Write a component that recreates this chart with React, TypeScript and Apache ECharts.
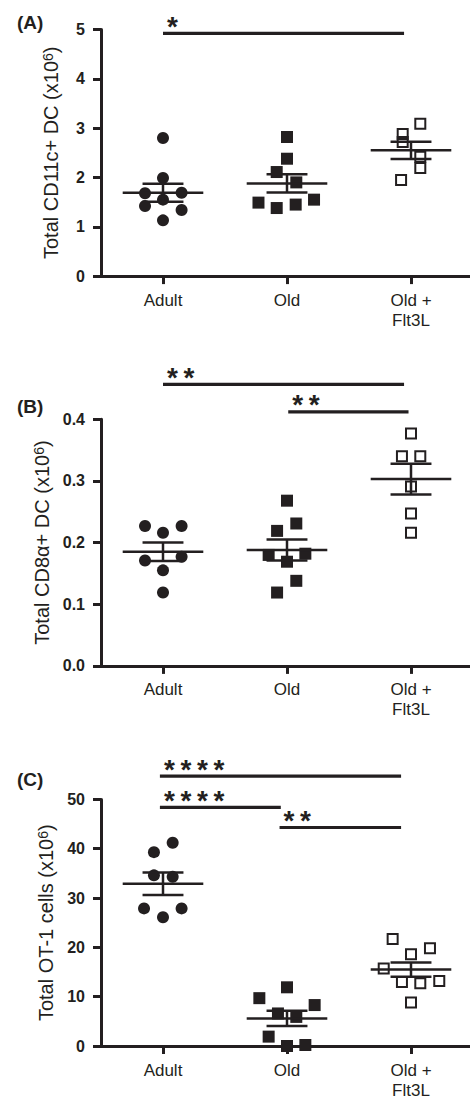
import React, { useEffect, useRef } from 'react';
import * as echarts from 'echarts';

// ---------- categories & ticks ----------
const categories = ['Adult', 'Old', 'Old +\nFlt3L'];
const groupPositions = [0, 1, 2];
const panelLabels = ['(A)', '(B)', '(C)'];
const yNames = [
  'Total CD11c+ DC (x10{sup|6})',
  'Total CD8α+ DC (x10{sup|6})',
  'Total OT-1 cells (x10{sup|6})',
];
const yMax = [5, 0.4, 50];
const yInterval = [1, 0.1, 10];

// ---------- Panel A: CD11c+ DC ----------
const aAdult = [2.8, 1.99, 1.68, 1.69, 1.55, 1.42, 1.34, 1.13];
const aAdultSpread = [0, 0, -0.145, 0.15, 0, -0.145, 0.15, 0];
const aOld = [2.82, 2.38, 2.11, 1.9, 1.49, 1.38, 1.45, 1.55];
const aOldSpread = [0, 0, -0.083, 0.075, -0.23, -0.083, 0.07, 0.218];
const aFlt = [3.09, 2.88, 2.72, 2.42, 2.19, 1.95];
const aFltSpread = [0.075, -0.067, -0.067, 0.075, 0.075, -0.08];
const aMean = [1.69, 1.88, 2.55];
const aSem = [0.18, 0.185, 0.175];
const aSigFrom = [0];
const aSigTo = [1.944];
const aSigY = [4.92];
const aSigStars = ['*'];

// ---------- Panel B: CD8a+ DC ----------
const bAdult = [0.227, 0.227, 0.216, 0.171, 0.177, 0.155, 0.119];
const bAdultSpread = [-0.145, 0.15, 0, -0.145, 0.15, 0, 0];
const bOld = [0.268, 0.219, 0.231, 0.18, 0.182, 0.169, 0.138, 0.119];
const bOldSpread = [0, -0.08, 0.075, -0.148, 0.148, 0, 0.075, -0.08];
const bFlt = [0.377, 0.34, 0.34, 0.291, 0.247, 0.216];
const bFltSpread = [0, -0.073, 0.075, 0, 0, 0];
const bMean = [0.185, 0.188, 0.303];
const bSem = [0.015, 0.017, 0.025];
const bSigFrom = [0, 1.01];
const bSigTo = [1.944, 1.98];
const bSigY = [0.4566, 0.4122];
const bSigStars = ['**', '**'];

// ---------- Panel C: OT-1 cells ----------
const cAdult = [41.2, 39.3, 34.6, 34.3, 27.9, 27.9, 26.1];
const cAdultSpread = [0.078, -0.073, -0.073, 0.078, -0.153, 0.15, 0];
const cOld = [11.9, 9.7, 8.3, 6.6, 5.9, 1.9, 0.0, 0.2];
const cOldSpread = [0, -0.223, 0.223, -0.073, 0.075, -0.148, 0, 0.148];
const cFlt = [21.7, 19.8, 18.6, 15.7, 13.0, 12.7, 13.2, 8.8];
const cFltSpread = [-0.148, 0.153, 0, -0.22, -0.073, 0.075, 0.228, 0];
const cMean = [32.9, 5.6, 15.5];
const cSem = [2.3, 1.55, 1.45];
const cSigFrom = [-0.025, -0.025, 0.94];
const cSigTo = [1.92, 0.95, 1.92];
const cSigY = [54.7, 48.4, 44.3];
const cSigStars = ['****', '****', '**'];

// ---------- styling ----------
const INK = '#231f20';
const FONT = '"Liberation Sans", Arial, Helvetica, sans-serif';
const GRID_LEFT = 101;
const GRID_WIDTH = 369;
const GRID_HEIGHT = 246.6;
const GRID_TOPS = [29.5, 419.3, 799.4];
const LABEL_Y = [22, 406, 779];
const X_MIN = -0.5;
const X_MAX = GRID_WIDTH / 124 - 0.5;

function scatter(gi: number, group: number, values: number[], spread: number[], kind: string) {
  const data = values.map((v, k) => [group + spread[k], v]);
  const base: any = {
    type: 'scatter',
    xAxisIndex: gi,
    yAxisIndex: gi,
    data,
    silent: true,
    z: 3,
    clip: false,
  };
  if (kind === 'circle')
    return { ...base, symbol: 'circle', symbolSize: 12, itemStyle: { color: INK, opacity: 1 } };
  if (kind === 'square')
    return { ...base, symbol: 'rect', symbolSize: 12, itemStyle: { color: INK, opacity: 1 } };
  return {
    ...base,
    symbol: 'rect',
    symbolSize: 10,
    itemStyle: { color: 'rgba(255,255,255,0)', borderColor: INK, borderWidth: 2, opacity: 1 },
  };
}

function meanSem(gi: number, means: number[], sems: number[]) {
  return {
    type: 'custom',
    xAxisIndex: gi,
    yAxisIndex: gi,
    silent: true,
    z: 4,
    data: means.map((m, i) => [groupPositions[i], m, sems[i]]),
    renderItem: (params: any, api: any) => {
      const x = api.value(0);
      const m = api.value(1);
      const s = api.value(2);
      const c = api.coord([x, m]);
      const up = api.coord([x, m + s]);
      const lo = api.coord([x, m - s]);
      const unit = api.size([1, 0])[0];
      const half = unit * 0.325;
      const cap = unit * 0.165;
      const st = { stroke: INK, lineWidth: 2.5 };
      return {
        type: 'group',
        children: [
          { type: 'line', shape: { x1: c[0] - half, y1: c[1], x2: c[0] + half, y2: c[1] }, style: st },
          { type: 'line', shape: { x1: c[0], y1: up[1], x2: c[0], y2: lo[1] }, style: st },
          { type: 'line', shape: { x1: c[0] - cap, y1: up[1], x2: c[0] + cap, y2: up[1] }, style: st },
          { type: 'line', shape: { x1: c[0] - cap, y1: lo[1], x2: c[0] + cap, y2: lo[1] }, style: st },
        ],
      };
    },
  };
}

function significance(gi: number, from: number[], to: number[], ys: number[], stars: string[]) {
  return {
    type: 'custom',
    xAxisIndex: gi,
    yAxisIndex: gi,
    silent: true,
    z: 5,
    clip: false,
    data: from.map((f, i) => [f, ys[i], to[i]]),
    renderItem: (params: any, api: any) => {
      const a = api.coord([api.value(0), api.value(1)]);
      const b = api.coord([api.value(2), api.value(1)]);
      return {
        type: 'group',
        children: [
          {
            type: 'line',
            shape: { x1: a[0], y1: a[1], x2: b[0], y2: b[1] },
            style: { stroke: INK, lineWidth: 3.2 },
          },
          {
            type: 'text',
            x: a[0] + 4,
            y: a[1] - 7,
            style: {
              text: stars[params.dataIndex].split('').join('\u2009'),
              fill: INK,
              fontSize: 28,
              lineHeight: 20,
              fontWeight: 'bold',
              fontFamily: FONT,
              align: 'left',
              verticalAlign: 'middle',
            },
          },
        ],
      };
    },
  };
}

function buildOption() {
  const grids = GRID_TOPS.map((top) => ({
    left: GRID_LEFT,
    top,
    width: GRID_WIDTH,
    height: GRID_HEIGHT,
    containLabel: false,
    outerBoundsMode: 'none',
  }));
  const xAxes = GRID_TOPS.map((_, gi) => ({
    type: 'value',
    gridIndex: gi,
    min: X_MIN,
    max: X_MAX,
    axisLine: { show: true, onZero: false, lineStyle: { color: INK, width: 3 } },
    axisTick: { show: true, length: 8, customValues: groupPositions, lineStyle: { color: INK, width: 3 } },
    axisLabel: {
      customValues: groupPositions,
      formatter: (v: number) => categories[Math.round(v)],
      margin: 14,
      fontSize: 17,
      lineHeight: 20,
      color: INK,
      fontFamily: FONT,
    },
    splitLine: { show: false },
  }));
  const yAxes = GRID_TOPS.map((_, gi) => ({
    type: 'value',
    gridIndex: gi,
    min: 0,
    max: yMax[gi],
    interval: yInterval[gi],
    name: yNames[gi],
    nameLocation: 'middle',
    nameGap: 40,
    nameTextStyle: {
      fontSize: 20,
      color: INK,
      fontFamily: FONT,
      rich: { sup: { fontSize: 14, verticalAlign: 'top', color: INK, fontFamily: FONT } },
    },
    axisLine: { show: true, onZero: false, lineStyle: { color: INK, width: 3 } },
    axisTick: { show: true, length: 8, lineStyle: { color: INK, width: 3 } },
    axisLabel: {
      margin: 16,
      fontSize: 16,
      fontWeight: 'bold',
      color: INK,
      fontFamily: FONT,
      formatter: (v: number) => (gi === 1 ? v.toFixed(1) : String(v)),
    },
    splitLine: { show: false },
  }));

  const series: any[] = [
    scatter(0, 0, aAdult, aAdultSpread, 'circle'),
    scatter(0, 1, aOld, aOldSpread, 'square'),
    scatter(0, 2, aFlt, aFltSpread, 'open'),
    meanSem(0, aMean, aSem),
    significance(0, aSigFrom, aSigTo, aSigY, aSigStars),

    scatter(1, 0, bAdult, bAdultSpread, 'circle'),
    scatter(1, 1, bOld, bOldSpread, 'square'),
    scatter(1, 2, bFlt, bFltSpread, 'open'),
    meanSem(1, bMean, bSem),
    significance(1, bSigFrom, bSigTo, bSigY, bSigStars),

    scatter(2, 0, cAdult, cAdultSpread, 'circle'),
    scatter(2, 1, cOld, cOldSpread, 'square'),
    scatter(2, 2, cFlt, cFltSpread, 'open'),
    meanSem(2, cMean, cSem),
    significance(2, cSigFrom, cSigTo, cSigY, cSigStars),
  ];

  return {
    animation: false,
    backgroundColor: '#ffffff',
    textStyle: { fontFamily: FONT },
    grid: grids,
    xAxis: xAxes,
    yAxis: yAxes,
    series,
    graphic: panelLabels.map((t, i) => ({
      type: 'text',
      x: 17,
      y: LABEL_Y[i],
      style: {
        text: t,
        fill: INK,
        fontSize: 19,
        fontWeight: 'bold',
        fontFamily: FONT,
        align: 'left',
        verticalAlign: 'middle',
      },
    })),
  };
}

export default function App() {
  const ref = useRef<HTMLDivElement>(null);
  useEffect(() => {
    if (!ref.current) return;
    const chart = echarts.init(ref.current, null, { renderer: 'svg' });
    chart.setOption(buildOption() as any);
    return () => chart.dispose();
  }, []);
  return (
    <div
      ref={ref}
      style={{ position: 'absolute', left: 0, top: 0, width: 470, height: 1101, background: '#fff' }}
    />
  );
}
